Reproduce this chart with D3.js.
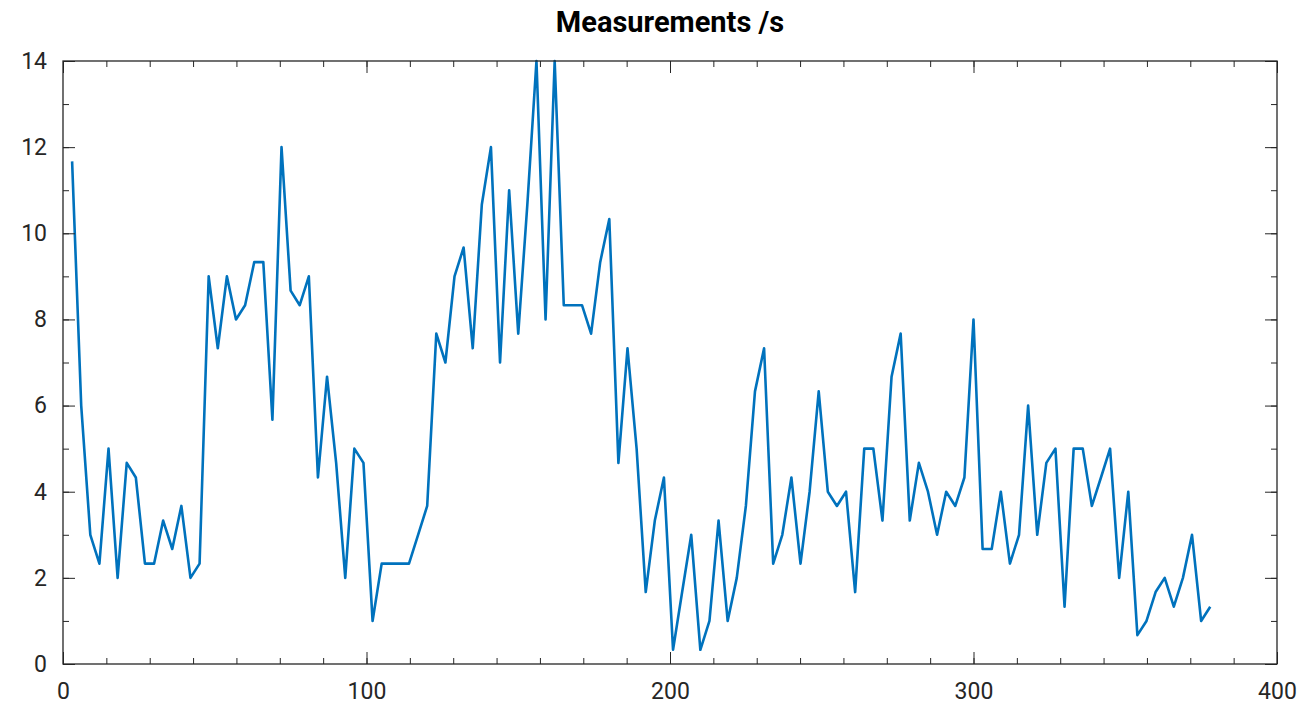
<!DOCTYPE html>
<html>
<head>
<meta charset="utf-8">
<script src="https://cdn.jsdelivr.net/npm/d3@7"></script>
<style>
  html, body { margin: 0; padding: 0; background: #fff; }
  svg { display: block; }
</style>
</head>
<body>
<svg id="chart" width="1298" height="711"></svg>
<script>
// ---- data ----
const title = "Measurements /s";
const xValues = d3.range(3, 379, 3); // sample times 3..378
const yValues = [
  11.67, 6, 3, 2.33, 5, 2, 4.67, 4.33, 2.33, 2.33,
  3.33, 2.67, 3.67, 2, 2.33, 9, 7.33, 9, 8, 8.33,
  9.33, 9.33, 5.67, 12, 8.67, 8.33, 9, 4.33, 6.67, 4.67,
  2, 5, 4.67, 1, 2.33, 2.33, 2.33, 2.33, 3, 3.67,
  7.67, 7, 9, 9.67, 7.33, 10.67, 12, 7, 11, 7.67,
  10.67, 14, 8, 14, 8.33, 8.33, 8.33, 7.67, 9.33, 10.33,
  4.67, 7.33, 5, 1.67, 3.33, 4.33, 0.33, 1.67, 3, 0.33,
  1, 3.33, 1, 2, 3.67, 6.33, 7.33, 2.33, 3, 4.33,
  2.33, 4, 6.33, 4, 3.67, 4, 1.67, 5, 5, 3.33,
  6.67, 7.67, 3.33, 4.67, 4, 3, 4, 3.67, 4.33, 8,
  2.67, 2.67, 4, 2.33, 3, 6, 3, 4.67, 5, 1.33,
  5, 5, 3.67, 4.33, 5, 2, 4, 0.67, 1, 1.67,
  2, 1.33, 2, 3, 1, 1.33
];
const xTicks = [0, 100, 200, 300, 400];
const yTicks = [0, 2, 4, 6, 8, 10, 12, 14];
const xMinorTicks = d3.range(0, 29).map(i => i * 100 / 7);
const yMinorTicks = d3.range(0, 15);

const points = xValues.map((x, i) => ({ x, y: yValues[i] }));

// ---- layout ----
const L = 63, R = 1277, T = 61, B = 664;
const axisColor = "#262626";
const lineColor = "#0072BD";
const font = "Roboto, 'Liberation Sans', sans-serif";

const svg = d3.select("#chart");
const x = d3.scaleLinear().domain([0, 400]).range([L, R]);
const y = d3.scaleLinear().domain([0, 14]).range([B, T]);

// data line (clipped to axes)
svg.append("clipPath").attr("id", "clip")
  .append("rect").attr("x", L).attr("y", T - 2).attr("width", R - L).attr("height", B - T + 4);

svg.append("path")
  .datum(points)
  .attr("clip-path", "url(#clip)")
  .attr("fill", "none")
  .attr("stroke", lineColor)
  .attr("stroke-width", 2.6)
  .attr("stroke-linejoin", "round")
  .attr("d", d3.line().x(d => x(d.x)).y(d => y(d.y)));

// axes with inward ticks
function styleAxis(g) {
  g.select(".domain").remove();
  g.selectAll("line").attr("stroke", axisColor).attr("stroke-width", 1);
  g.selectAll("text").attr("fill", axisColor).attr("font-family", font).attr("font-size", 23);
}
const MAJ = 12, MIN = 6;

// bottom
svg.append("g").attr("transform", `translate(0,${B})`)
  .call(d3.axisBottom(x).tickValues(xMinorTicks).tickSize(-MIN).tickFormat(""))
  .call(styleAxis);
svg.append("g").attr("transform", `translate(0,${B})`)
  .call(d3.axisBottom(x).tickValues(xTicks).tickSize(-MAJ).tickPadding(19).tickFormat(d3.format("d")))
  .call(styleAxis)
  .call(g => g.selectAll("text").attr("dy", "0.71em"));
// top
svg.append("g").attr("transform", `translate(0,${T})`)
  .call(d3.axisTop(x).tickValues(xMinorTicks).tickSize(-MIN).tickFormat(""))
  .call(styleAxis);
svg.append("g").attr("transform", `translate(0,${T})`)
  .call(d3.axisTop(x).tickValues(xTicks).tickSize(-MAJ).tickFormat(""))
  .call(styleAxis);
// left
svg.append("g").attr("transform", `translate(${L},0)`)
  .call(d3.axisLeft(y).tickValues(yMinorTicks).tickSize(-MIN).tickFormat(""))
  .call(styleAxis);
svg.append("g").attr("transform", `translate(${L},0)`)
  .call(d3.axisLeft(y).tickValues(yTicks).tickSize(-MAJ).tickPadding(MAJ + 4).tickFormat(d3.format("d")))
  .call(styleAxis);
// right
svg.append("g").attr("transform", `translate(${R},0)`)
  .call(d3.axisRight(y).tickValues(yMinorTicks).tickSize(-MIN).tickFormat(""))
  .call(styleAxis);
svg.append("g").attr("transform", `translate(${R},0)`)
  .call(d3.axisRight(y).tickValues(yTicks).tickSize(-MAJ).tickFormat(""))
  .call(styleAxis);

// box
svg.append("rect")
  .attr("x", L).attr("y", T).attr("width", R - L).attr("height", B - T)
  .attr("fill", "none").attr("stroke", axisColor).attr("stroke-width", 1.3);

// title
svg.append("text")
  .attr("x", (L + R) / 2).attr("y", 32)
  .attr("text-anchor", "middle")
  .attr("font-family", font).attr("font-weight", "bold").attr("font-size", 29)
  .attr("fill", "#000")
  .text(title);
</script>
</body>
</html>
